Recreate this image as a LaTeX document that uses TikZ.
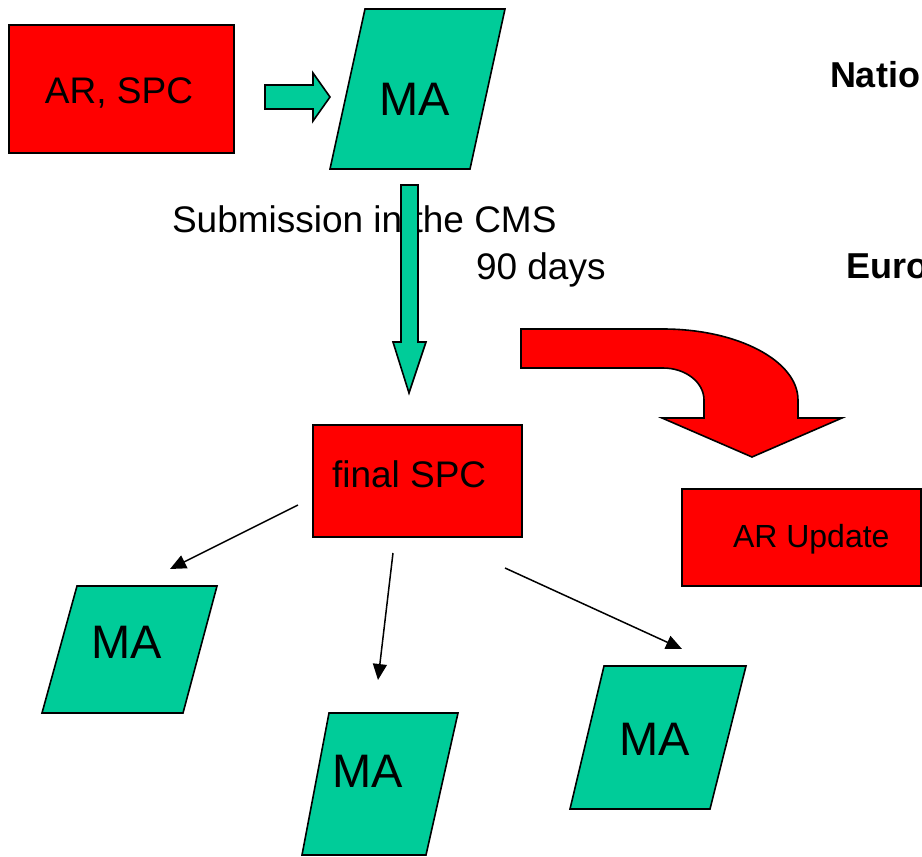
\documentclass[tikz,border=0pt]{standalone}
\usepackage{fontspec}
\setmainfont{Liberation Sans}
\usetikzlibrary{arrows.meta}
\definecolor{mared}{RGB}{255,0,0}
\definecolor{magreen}{RGB}{0,204,153}
\tikzset{
  redbox/.style={draw=black,line width=1.6pt,fill=mared,inner sep=0pt},
  greenshape/.style={draw=black,line width=1.6pt,fill=magreen,line join=miter},
  redshape/.style={draw=black,line width=1.6pt,fill=mared,line join=miter},
  lbl/.style={anchor=base west,inner sep=0pt,outer sep=0pt},
  big/.style={font=\fontsize{37}{44}\selectfont},
  mafont/.style={font=\fontsize{47}{56}\selectfont},
  small/.style={font=\fontsize{32}{38}\selectfont},
  head/.style={font=\bfseries\fontsize{36}{43}\selectfont},
  conn/.style={draw=black,line width=1.5pt,-{Triangle[length=16pt,width=14pt]}}
}
\begin{document}
\begin{tikzpicture}[x=1pt,y=-1pt]
\useasboundingbox (0,0) rectangle (922,857);
\clip (0,0) rectangle (922,857);
\fill[white] (0,0) rectangle (922,857);

% AR, SPC box
\node[redbox,minimum width=225pt,minimum height=128pt] (arspcbox) at (121.5,89) {};
\node[lbl,big] (arspc) at (45,103) {AR, SPC};

% small green block arrow
\path[greenshape] (265,85) -- (313,85) -- (313,73) -- (330,97) -- (313,121) -- (313,109) -- (265,109) -- cycle;

% top MA parallelogram
\path[greenshape] (365,9) -- (505,9) -- (470,169) -- (330,169) -- cycle;
\node[lbl,mafont] (matop) at (379,115) {MA};

% headings at the right border
\node[lbl,head] (natio) at (830,87) {Natio};
\node[lbl,head] (euro) at (846,278) {Euro};

% texts under the top MA
\node[lbl,big] (subm) at (172,232) {Submission in the CMS};
\node[lbl,big] (days) at (476,279) {90 days};

% green down block arrow (drawn over the text)
\path[greenshape] (401,185) -- (418,185) -- (418,342) -- (426,342) -- (409,393) -- (393,342) -- (401,342) -- cycle;

% red curved block arrow
\path[redshape] (521,329) -- (663,329)
  .. controls (737.6,329) and (798,360.8) .. (798,400)
  -- (798,418) -- (842,418) -- (752,457) -- (662,418) -- (704,418) -- (704,400)
  .. controls (704,382.3) and (685.6,368) .. (663,368)
  -- (521,368) -- cycle;

% final SPC box
\node[redbox,minimum width=209pt,minimum height=112pt] (spcbox) at (417.5,481) {};
\node[lbl,big] (finalspc) at (332,487) {final SPC};

% AR Update box
\node[redbox,minimum width=239pt,minimum height=97pt] (arupbox) at (801.5,537.5) {};
\node[lbl,small] (arup) at (733,547) {AR Update};

% lower MA parallelograms
\path[greenshape] (77,586) -- (217,586) -- (183,713) -- (42,713) -- cycle;
\node[lbl,mafont] (maleft) at (91.5,658) {MA};

\path[greenshape] (329,713) -- (458,713) -- (426,855) -- (302,855) -- cycle;
\node[lbl,mafont] (mamid) at (332.5,787) {MA};

\path[greenshape] (604,666) -- (746,666) -- (710,809) -- (570,809) -- cycle;
\node[lbl,mafont] (maright) at (619.5,755) {MA};

% connectors
\coordinate (s1) at (298,505);
\coordinate (e1) at (170,569);
\coordinate (s2) at (393,553);
\coordinate (e2) at (378,680);
\coordinate (s3) at (505,568);
\coordinate (e3) at (682,649);
\draw[conn] (s1) -- (e1);
\draw[conn] (s2) -- (e2);
\draw[conn] (s3) -- (e3);
\end{tikzpicture}
\end{document}
